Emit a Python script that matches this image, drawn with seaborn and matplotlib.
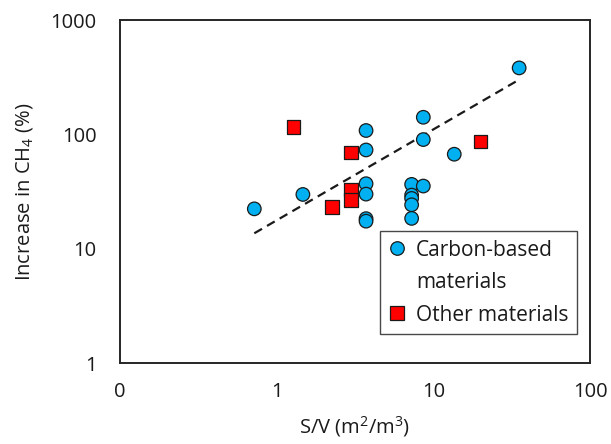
import numpy as np
import pandas as pd
import matplotlib
matplotlib.use("Agg")
import matplotlib.pyplot as plt
from matplotlib.lines import Line2D
import seaborn as sns

# Data
carbon_sv = [0.72, 1.47, 3.72, 3.72, 3.72, 3.72, 3.72, 3.72,
             7.27, 7.27, 7.27, 7.27, 7.27, 8.63, 8.63, 8.63, 13.6, 35.3]
carbon_ch4 = [22.3, 29.8, 108, 73, 37, 30, 18.3, 17.4,
              36.5, 29.4, 27.5, 24.2, 18.4, 141, 90, 35.3, 67, 381]
other_sv = [1.28, 2.99, 2.99, 2.99, 2.25, 20.0]
other_ch4 = [116, 69.5, 33.0, 26.6, 23.1, 86.7]

# power-law trend line y = a * x^b
trend_a = 17.7
trend_b = 0.795

groups = ["Carbon-based materials", "Other materials"]
x_ticks = [0.1, 1, 10, 100]
x_tick_labels = ["0", "1", "10", "100"]
y_ticks = [1, 10, 100, 1000]
y_tick_labels = ["1", "10", "100", "1000"]

df = pd.DataFrame({
    "sv": carbon_sv + other_sv,
    "ch4": carbon_ch4 + other_ch4,
    "group": [groups[0]] * len(carbon_sv) + [groups[1]] * len(other_sv),
})

sns.set_style("white")
plt.rcParams["font.family"] = ["Open Sans", "DejaVu Sans"]
plt.rcParams["mathtext.default"] = "regular"
text_color = "#1a1a1a"
fs = 14.5

fig, ax = plt.subplots(figsize=(6.11, 4.44), dpi=100)
fig.subplots_adjust(left=120 / 611, right=590 / 611, bottom=1 - 363 / 444, top=1 - 20 / 444)

ax.set_xscale("log")
ax.set_yscale("log")

xs = np.logspace(np.log10(min(carbon_sv)), np.log10(max(carbon_sv)), 60)
ax.plot(xs, trend_a * xs ** trend_b, color="#1a1a1a", lw=1.6, ls=(0, (4, 2.6)), zorder=2)

sns.scatterplot(data=df, x="sv", y="ch4", hue="group", style="group",
                palette={groups[0]: "#00B0F0", groups[1]: "#FF0000"},
                markers={groups[0]: "o", groups[1]: "s"},
                s=95, edgecolor="#1a1a1a", linewidth=0.9, ax=ax, zorder=3)

ax.set_xlim(0.1, 100)
ax.set_ylim(1, 1000)
ax.minorticks_off()
ax.set_xticks(x_ticks)
ax.set_xticklabels(x_tick_labels)
ax.set_yticks(y_ticks)
ax.set_yticklabels(y_tick_labels)
ax.tick_params(axis="both", direction="in", length=5, width=1.3, colors="#262626",
               labelsize=fs, labelcolor=text_color)
ax.tick_params(axis="x", pad=14)
ax.tick_params(axis="y", pad=17)

for sp in ax.spines.values():
    sp.set_visible(True)
    sp.set_color("#262626")
    sp.set_linewidth(1.4)

ax.set_xlabel("S/V (m$^2$/m$^3$)", fontsize=fs, color=text_color)
ax.set_ylabel("Increase in CH$_4$ (%)", fontsize=fs, color=text_color)
ax.xaxis.set_label_coords(0.5, -0.15)
ax.yaxis.set_label_coords(-0.18, 0.5)

# legend: marker sits beside the first line of the wrapped label
handles, labels = ax.get_legend_handles_labels()
blank = Line2D([], [], linestyle="none", marker=None)
ax.legend(handles=[handles[0], blank, handles[1]],
          labels=["Carbon-based", "materials", "Other materials"],
          loc="lower right", bbox_to_anchor=(0.972, 0.085), borderaxespad=0,
          fontsize=15, frameon=True, fancybox=False, handletextpad=0.45,
          handlelength=0.9, borderpad=0.4, labelspacing=0.55)
leg = ax.get_legend()
leg.get_frame().set_edgecolor("#1a1a1a")
leg.get_frame().set_linewidth(1.0)
for t in leg.get_texts():
    t.set_color(text_color)

fig.savefig("out.png", dpi=100)
